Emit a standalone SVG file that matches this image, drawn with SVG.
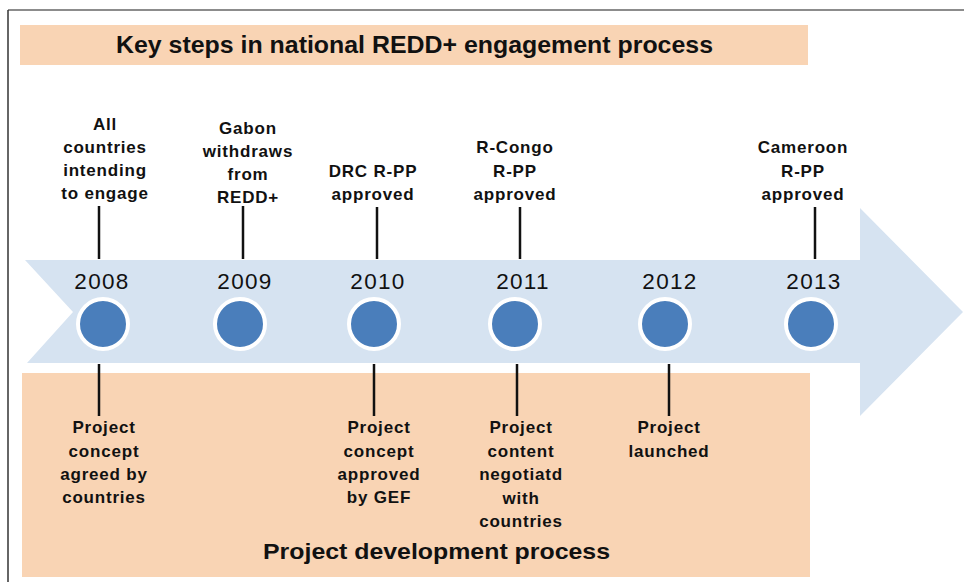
<svg xmlns="http://www.w3.org/2000/svg" width="964" height="582" viewBox="0 0 964 582">
<style>
.lbl{font-family:"Liberation Sans",Arial,sans-serif;font-size:17px;font-weight:bold;letter-spacing:0.8px;fill:#111;text-anchor:middle}
.yr{font-family:"Liberation Sans",Arial,sans-serif;font-size:22.5px;letter-spacing:1.3px;fill:#111;text-anchor:middle}
.ttl{font-family:"Liberation Sans",Arial,sans-serif;font-weight:bold;fill:#111}
.dot{fill:#4a7ebb;stroke:#fff;stroke-width:4}
.conn line{stroke:#111;stroke-width:2.5}
</style>
<rect width="964" height="582" fill="#fff"/>
<g id="frame">
<line x1="8" y1="10" x2="964" y2="10" stroke="#666" stroke-width="1.5"/>
<line x1="8" y1="10" x2="8" y2="582" stroke="#333" stroke-width="1.5"/>
</g>
<g id="top-banner">
<rect x="20" y="25" width="788" height="40" fill="#f9d4b4"/>
<text class="ttl" x="116" y="53" font-size="24" textLength="597" lengthAdjust="spacingAndGlyphs">Key steps in national REDD+ engagement process</text>
</g>
<g id="bottom-banner">
<rect x="22" y="373" width="788" height="204" fill="#f9d4b4"/>
<text class="ttl" x="263" y="559" font-size="22" textLength="347" lengthAdjust="spacingAndGlyphs">Project development process</text>
</g>
<g id="timeline-arrow">
<polygon points="25,260 860,260 860,208 963,312 860,416 860,363 27,363 73,312" fill="#d6e3f1"/>
</g>
<g id="connectors" class="conn">
<line x1="99" y1="206" x2="99" y2="259"/>
<line x1="243" y1="206" x2="243" y2="259"/>
<line x1="377" y1="207" x2="377" y2="259"/>
<line x1="520" y1="207" x2="520" y2="259"/>
<line x1="815" y1="207" x2="815" y2="259"/>
<line x1="99" y1="364" x2="99" y2="416"/>
<line x1="374" y1="364" x2="374" y2="416"/>
<line x1="517" y1="364" x2="517" y2="416"/>
<line x1="669" y1="364" x2="669" y2="416"/>
</g>
<g id="y2008">
<text class="yr" x="102" y="289">2008</text>
<circle class="dot" cx="103" cy="324" r="25"/>
<text class="lbl" x="105" y="130">All</text>
<text class="lbl" x="105" y="153">countries</text>
<text class="lbl" x="105" y="176">intending</text>
<text class="lbl" x="105" y="199">to engage</text>
<text class="lbl" x="104" y="433">Project</text>
<text class="lbl" x="104" y="457">concept</text>
<text class="lbl" x="104" y="480">agreed by</text>
<text class="lbl" x="104" y="503">countries</text>
</g>
<g id="y2009">
<text class="yr" x="245" y="289">2009</text>
<circle class="dot" cx="240" cy="324" r="25"/>
<text class="lbl" x="248" y="134">Gabon</text>
<text class="lbl" x="248" y="157">withdraws</text>
<text class="lbl" x="248" y="180">from</text>
<text class="lbl" x="248" y="203">REDD+</text>
</g>
<g id="y2010">
<text class="yr" x="378" y="289">2010</text>
<circle class="dot" cx="374" cy="324" r="25"/>
<text class="lbl" x="373" y="177">DRC R-PP</text>
<text class="lbl" x="373" y="200">approved</text>
<text class="lbl" x="379" y="433">Project</text>
<text class="lbl" x="379" y="457">concept</text>
<text class="lbl" x="379" y="480">approved</text>
<text class="lbl" x="379" y="503">by GEF</text>
</g>
<g id="y2011">
<text class="yr" x="523" y="289">2011</text>
<circle class="dot" cx="515" cy="324" r="25"/>
<text class="lbl" x="515" y="153">R-Congo</text>
<text class="lbl" x="515" y="177">R-PP</text>
<text class="lbl" x="515" y="200">approved</text>
<text class="lbl" x="521" y="433">Project</text>
<text class="lbl" x="521" y="457">content</text>
<text class="lbl" x="521" y="480">negotiatd</text>
<text class="lbl" x="521" y="504">with</text>
<text class="lbl" x="521" y="527">countries</text>
</g>
<g id="y2012">
<text class="yr" x="670" y="289">2012</text>
<circle class="dot" cx="665" cy="324" r="25"/>
<text class="lbl" x="669" y="433">Project</text>
<text class="lbl" x="669" y="457">launched</text>
</g>
<g id="y2013">
<text class="yr" x="814" y="289">2013</text>
<circle class="dot" cx="811" cy="324" r="25"/>
<text class="lbl" x="803" y="153">Cameroon</text>
<text class="lbl" x="803" y="177">R-PP</text>
<text class="lbl" x="803" y="200">approved</text>
</g>
</svg>
